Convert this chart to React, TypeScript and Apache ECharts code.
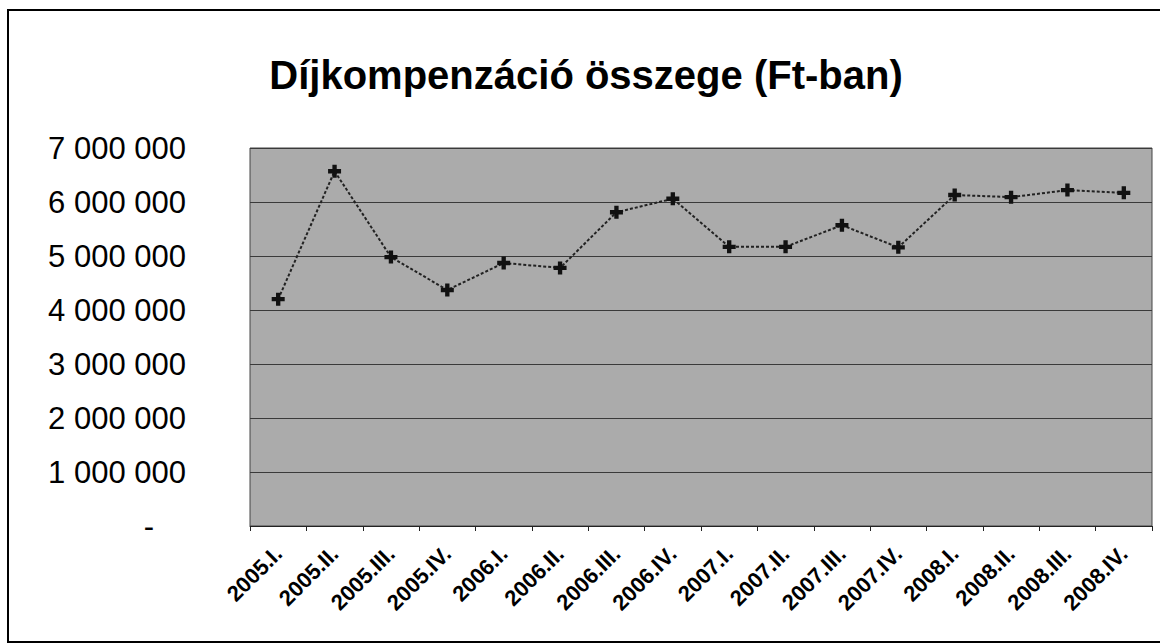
import React, { useEffect, useRef } from "react";
import * as echarts from "echarts";

const categories = [
  "2005.I.", "2005.II.", "2005.III.", "2005.IV.",
  "2006.I.", "2006.II.", "2006.III.", "2006.IV.",
  "2007.I.", "2007.II.", "2007.III.", "2007.IV.",
  "2008.I.", "2008.II.", "2008.III.", "2008.IV.",
];
const values = [
  4200000, 6570000, 4980000, 4370000,
  4870000, 4780000, 5810000, 6060000,
  5170000, 5170000, 5570000, 5160000,
  6130000, 6090000, 6220000, 6170000,
];
const title = "Díjkompenzáció összege (Ft-ban)";

function fmt(v: number): string {
  if (v === 0) return "{z|-}";
  return String(v).replace(/\B(?=(\d{3})+(?!\d))/g, " ");
}

const FONT = "Liberation Sans, Arial";

export default function App() {
  const ref = useRef<HTMLDivElement>(null);
  useEffect(() => {
    document.body.style.margin = "0";
    const chart = echarts.init(ref.current!, null, { renderer: "svg" });
    chart.setOption({
      animation: false,
      backgroundColor: "#ffffff",
      title: {
        text: title,
        left: 581,
        top: 50,
        textAlign: "center",
        textStyle: { fontFamily: FONT, fontWeight: "bold", fontSize: 40, color: "#000" },
      },
      graphic: [
        {
          type: "rect",
          shape: { x: 8, y: 10, width: 1170, height: 632 },
          style: { fill: "none", stroke: "#000", lineWidth: 2 },
          silent: true,
        },
      ],
      grid: {
        left: 250,
        right: 8,
        top: 148,
        bottom: 118,
        show: true,
        backgroundColor: "#ababab",
        borderColor: "#444",
        borderWidth: 1,
      },
      xAxis: {
        type: "category",
        data: categories,
        boundaryGap: true,
        axisLine: { lineStyle: { color: "#222", width: 1 } },
        axisTick: { show: true, length: 5, lineStyle: { color: "#222" } },
        axisLabel: {
          interval: 0,
          rotate: 45,
          margin: 24,
          fontFamily: FONT,
          fontWeight: "bold",
          fontSize: 22,
          color: "#000",
        },
      },
      yAxis: {
        type: "value",
        min: 0,
        max: 7000000,
        interval: 1000000,
        axisLine: { show: false },
        axisTick: { show: false },
        splitLine: { lineStyle: { color: "#3a3a3a", width: 1 } },
        axisLabel: {
          margin: 64,
          fontFamily: FONT,
          fontSize: 31,
          color: "#000",
          formatter: fmt,
          rich: { z: { fontSize: 31, color: "#000", padding: [0, 32, 0, 0], fontFamily: FONT } },
        },
      },
      series: [
        {
          type: "line",
          data: values,
          symbol: "path://M4,0H8V4H12V8H8V12H4V8H0V4H4Z",
          symbolSize: 13,
          itemStyle: { color: "#111" },
          lineStyle: { color: "#222", width: 2, type: [3, 2] },
        },
      ],
    });
    return () => chart.dispose();
  }, []);
  return <div ref={ref} style={{ width: 1160, height: 644 }} />;
}
